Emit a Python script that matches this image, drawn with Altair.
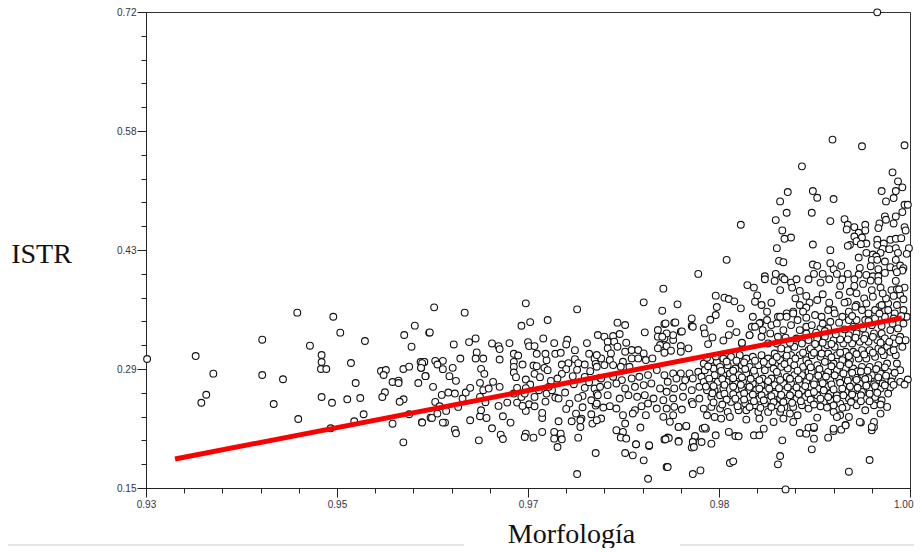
import altair as alt
import pandas as pd

left_points = [(.9301,.3045),(.93455,.308),(.93617,.2869),(.93552,.2617),(.93507,.2521),(.94065,.3276),(.94065,.2853),(.94255,.2802),(.9417,.2506),(.94386,.36),(.94395,.2326),(.94716,.3551),(.9478,.336),(.94502,.3204),(.94609,.3093),(.94609,.3009),(.94603,.2925),(.94652,.2925),(.94878,.2997),(.95006,.326),(.94609,.259),(.94704,.2521),(.94692,.2215),(.94844,.2562),(.94921,.2757),(.94963,.2578),(.94994,.2383),(.94908,.2299),(.95153,.2901),(.95198,.2913),(.95177,.2853),(.95259,.2769),(.95314,.2785),(.95314,.2757),(.95189,.2646),(.95165,.259),(.9536,.2562),(.95324,.2533),(.95358,.2047),(.95259,.227),(.95411,.2383),(.95528,.2287),(.95607,.2342),(.95358,.2925),(.95411,.2953),(.95366,.3332),(.95463,.3444),(.95433,.3192),(.95595,.336),(.95516,.3009),(.95549,.3009),(.95522,.2937),(.95562,.2841),(.95495,.2757)]

mid_left_points = [(.9553,.2283),(.9562,.2339),(.9567,.2391),(.9571,.2615),(.9577,.2643),(.9583,.2631),(.9565,.2531),(.9563,.2711),(.9575,.2423),(.9569,.2479),(.9586,.2471),(.9590,.2571),(.9593,.2643),(.9597,.2699),(.9574,.2283),(.9572,.2283),(.9583,.2199),(.9584,.2155),(.9597,.2311),(.9606,.2359),(.9612,.2339),(.9607,.2431),(.9606,.2591),(.9606,.2759),(.9609,.2671),(.9614,.2691),(.9618,.2771),(.9624,.2711),(.9611,.2527),(.9623,.2483),(.9627,.2359),(.9634,.2283),(.9617,.2215),(.9625,.2139),(.9627,.2087),(.9631,.2523),(.9640,.2523),(.9637,.2631),(.9640,.2699),(.9648,.2151),(.9647,.2111),(.9655,.2103),(.9663,.2339),(.9564,.3663),(.9592,.36),(.9560,.3363),(.9582,.3219),(.9596,.3247),(.9602,.3291),(.9617,.3231),(.9623,.3199),(.9624,.3163),(.9633,.3235),(.9648,.3711),(.9644,.3443),(.9652,.3487),(.9668,.3511),(.9664,.3291),(.9650,.3247),(.9651,.3199),(.9656,.3199),(.9658,.3107),(.9674,.3235),(.9603,.3123),(.9602,.3051),(.9609,.3051),(.9624,.3039),(.9588,.3051),(.9555,.3011),(.9553,.2995),(.9552,.2939),(.9565,.3023),(.9572,.3023),(.9567,.2979),(.9572,.2923),(.9581,.2939),(.9556,.2839),(.9578,.2839),(.9584,.2783),(.9607,.2927),(.9610,.2867),(.9637,.3107),(.9641,.3087),(.9637,.3011),(.9645,.2979),(.9637,.2951),(.9637,.2883),(.9639,.2827),(.9648,.2799),(.9655,.2967),(.9658,.2959),(.9656,.2867),(.9661,.2827),(.9667,.3031),(.9665,.2939),(.9668,.2911),(.9671,.2783),(.9666,.3107),(.9675,.3107),(.9648,.2423),(.9651,.2503),(.9656,.2479),(.9656,.2591),(.9666,.2535),(.9667,.2631),(.9675,.2583),(.9678,.2571),(.9672,.2671),(.9678,.2299),(.9644,.2591),(.9647,.2631),(.9660,.2671),(.9669,.2711),(.9652,.2739),(.9663,.2399),(.9645,.2483),(.9648,.2695)]

mid_points = [(.9695,.3639),(.9756,.3723),(.9773,.3623),(.9774,.3887),(.9686,.3275),(.9685,.3219),(.9704,.3235),(.9693,.3151),(.9680,.3119),(.9687,.2995),(.9681,.2979),(.9685,.2923),(.9681,.2867),(.9677,.2811),(.9691,.2839),(.9695,.2915),(.9702,.2979),(.9693,.3043),(.9696,.2995),(.9706,.3107),(.9711,.3051),(.9712,.2987),(.9707,.2899),(.9716,.2819),(.9711,.2691),(.9702,.2699),(.9692,.2743),(.9684,.2643),(.9700,.2603),(.9713,.2631),(.9712,.2487),(.9700,.2467),(.9688,.2511),(.9685,.2447),(.9694,.2391),(.9699,.2331),(.9690,.2299),(.9698,.2231),(.9698,.2311),(.9709,.2271),(.9708,.2383),(.9695,.1667),(.9760,.1611),(.9777,.1751),(.9756,.1831),(.9739,.1919),(.9746,.1891),(.9712,.1919),(.9749,.2023),(.9761,.2003),(.9677,.1991),(.9605,.2071),(.9696,.2103),(.9674,.2171),(.9674,.2091),(.9680,.2151),(.9681,.2083),(.9663,.2171),(.9702,.2831),(.9706,.2767),(.9708,.2551),(.9696,.2579)]

mid_dense = [(.9732,.3480),(.9739,.3452),(.9757,.3364),(.9714,.3332),(.9720,.3312),(.9728,.3320),(.9734,.3344),(.9723,.3252),(.9729,.3252),(.9740,.3240),(.9723,.3172),(.9732,.3192),(.9739,.3132),(.9745,.3152),(.9751,.3152),(.9756,.3112),(.9726,.3112),(.9717,.3052),(.9725,.3032),(.9737,.3012),(.9745,.3052),(.9751,.3052),(.9758,.3032),(.9764,.3052),(.9713,.3092),(.9713,.2952),(.9720,.2972),(.9728,.2972),(.9743,.2952),(.9735,.2952),(.9769,.3392),(.9775,.3464),(.9784,.3480),(.9790,.3372),(.9769,.3312),(.9775,.3292),(.9783,.3272),(.9771,.3212),(.9777,.3200),(.9769,.3172),(.9790,.3200),(.9790,.3132),(.9797,.3172),(.9781,.3144),(.9800,.3440),(.9775,.3120),(.9717,.2812),(.9728,.2832),(.9736,.2792),(.9745,.2812),(.9752,.2832),(.9760,.2852),(.9768,.2912),(.9775,.2852),(.9783,.2872),(.9790,.2872),(.9798,.2872),(.9806,.2892),(.9778,.2772),(.9786,.2812),(.9794,.2792),(.9801,.2812),(.9809,.2832),(.9716,.2712),(.9723,.2732),(.9731,.2752),(.9739,.2692),(.9748,.2712),(.9756,.2732),(.9763,.2752),(.9771,.2692),(.9777,.2652),(.9784,.2692),(.9792,.2712),(.9800,.2672),(.9807,.2712),(.9714,.2612),(.9723,.2612),(.9734,.2572),(.9742,.2612),(.9750,.2592),(.9757,.2612),(.9765,.2572),(.9774,.2552),(.9783,.2572),(.9792,.2592),(.9800,.2532),(.9807,.2572),(.9713,.2512),(.9719,.2464),(.9725,.2480),(.9731,.2452),(.9748,.2432),(.9754,.2480),(.9760,.2512),(.9768,.2452),(.9777,.2452),(.9784,.2472),(.9791,.2440),(.9801,.2504),(.9737,.2372),(.9746,.2392),(.9758,.2372),(.9774,.2352),(.9780,.2292),(.9783,.2372),(.9717,.2332),(.9713,.2312),(.9739,.2272),(.9753,.2224),(.9731,.2192),(.9737,.2172),(.9788,.2232),(.9795,.2240),(.9735,.2104),(.9740,.2092),(.9778,.2104),(.9775,.2080),(.9788,.2064),(.9803,.2112),(.9801,.2052),(.9749,.2024),(.9761,.2012),(.9800,.1984),(.9810,.2212)]

right_sparse_low = [(.9778,.1751),(.9801,.1667),(.9808,.1711),(.9835,.1799),(.9838,.1819),(.9881,.1883),(.9879,.1783),(.9944,.1695),(.9963,.1835),(.9886,.1483),(.9910,.1963),(.9883,.2071),(.9803,.2123),(.9801,.2051),(.9802,.1991),(.9788,.2055),(.9809,.2051),(.9818,.2031),(.9779,.2099),(.9776,.2083),(.9822,.2131),(.9834,.2171),(.9840,.2123),(.9843,.2119),(.9857,.2131),(.9862,.2131),(.9788,.2231),(.9795,.2243),(.9813,.2211),(.9899,.2159),(.9905,.2151),(.9912,.2091),(.9925,.2103),(.9930,.2183),(.9937,.2199),(.9941,.2255),(.9955,.2283),(.9965,.2191),(.9967,.2231),(.9907,.2223),(.9912,.2219)]

right_upper = [(.9970,.7196),(.9929,.5672),(.9956,.5592),(.9995,.5604),(.9901,.5352),(.9984,.528),(.9989,.5172),(.9993,.51),(.9987,.5056),(.9974,.5056),(.9911,.5056),(.9915,.4976),(.9930,.496),(.9888,.5044),(.9881,.4932),(.9887,.4796),(.9910,.4796),(.9877,.4708),(.9927,.4696),(.9845,.4652),(.9978,.4932),(.9985,.4972),(.9995,.4892),(.9998,.4892),(.9993,.4804),(.9987,.4752),(.9977,.4752),(.9978,.4712),(.9985,.4668),(.9972,.4668),(.9971,.4612),(.9940,.4720),(.9943,.4652),(.9942,.4596),(.9949,.4624),(.9959,.4652),(.9959,.4584),(.9953,.4556),(.9949,.4512),(.9956,.45),(.9995,.4624),(.9996,.4584),(.9883,.4584),(.9891,.45),(.9885,.4484),(.9951,.4456),(.9945,.4412),(.9943,.44),(.9960,.4428),(.9955,.442),(.9970,.4472),(.9970,.4412),(.9976,.4428),(.9982,.4472),(.9987,.4484),(.9992,.4492),(.9911,.4416),(.9878,.4372),(.9927,.4348),(.9975,.4364),(.9981,.436),(.9987,.4372),(.9999,.4372),(.9997,.4304),(.9989,.4316),(.9960,.4316),(.9966,.4296),(.9973,.4316),(.9969,.4272),(.9953,.426),(.9965,.4232),(.9970,.4232),(.9977,.4212),(.9987,.4232),(.9832,.4232),(.9880,.422),(.9884,.4204),(.9911,.4176),(.9915,.416),(.9927,.4192),(.9937,.416),(.9930,.412),(.9933,.4064),(.9806,.4064),(.9954,.4136),(.9964,.4156),(.9971,.412),(.9982,.4144),(.9987,.412),(.9991,.4164),(.9994,.4132),(.9993,.4104),(.9953,.4056),(.9960,.4052),(.9966,.4036),(.9971,.4036),(.9977,.4076),(.9988,.4084),(.9867,.4036),(.9877,.4064),(.9883,.4024),(.9912,.4064),(.9920,.4064),(.9943,.4064),(.9867,.4),(.9876,.398),(.9885,.4),(.9891,.396),(.9896,.4),(.9907,.4),(.9918,.396),(.9926,.4),(.9938,.4),(.9949,.4),(.9957,.3944),(.9964,.3984),(.9971,.398),(.9987,.398),(.9851,.393),(.9857,.39),(.9892,.39),(.9881,.387),(.9899,.386),(.9936,.392),(.9949,.392),(.9965,.387),(.9973,.39),(.9983,.387),(.9988,.388),(.9995,.39)]

right_band = [(.9787,.3699),(.9822,.3803),(.9830,.3779),(.9834,.3763),(.9839,.3735),(.9845,.3651),(.9823,.3667),(.9822,.3571),(.9817,.3515),(.9800,.3531),(.9801,.3431),(.9785,.3483),(.9776,.3471),(.9811,.3415),(.9812,.3351),(.9819,.3303),(.9815,.3223),(.9835,.3471),(.9841,.3367),(.9834,.3331),(.9829,.3267),(.9791,.3375),(.9783,.3331),(.9777,.3351),(.9773,.3311),(.9846,.3231),(.9853,.3331),(.9856,.3551),(.9860,.3807),(.9858,.3731),(.9864,.3691),(.9873,.3719),(.9869,.3611),(.9863,.3479),(.9855,.3431),(.9879,.3551),(.9893,.3611),(.9895,.3771),(.9908,.3719),(.9899,.3691),(.9887,.3591),(.9926,.3719),(.9930,.3631),(.9943,.3731),(.9951,.3691),(.9951,.3831),(.9966,.3791),(.9972,.3671),(.9980,.3711),(.9988,.3691),(.9991,.3811),(.9905,.3661),(.9915,.3751),(.9935,.3811),(.9958,.3771)]

crop_a_upper = [(.9862,.3471),(.9869,.3511),(.9873,.3451),(.9865,.3391),(.9858,.3431),(.9881,.3551),(.9878,.3471),(.9887,.3551),(.9893,.3591),(.9884,.3391),(.9891,.3451),(.9897,.3511),(.9902,.3611),(.9905,.3431),(.9899,.3391),(.9864,.3311),(.9872,.3351),(.9879,.3311),(.9853,.3331),(.9846,.3239),(.9878,.3231),(.9870,.3231)]

crop_a_lower = [(.9811,.2991),(.9817,.3031),(.9823,.3011),(.9829,.3051),(.9836,.3071),(.9844,.3091),(.9850,.3051),(.9856,.3071),(.9864,.3091),(.9870,.3051),(.9876,.3111),(.9882,.3171),(.9888,.3151),(.9894,.3191),(.9901,.3231),(.9907,.3151),(.9885,.3051),(.9891,.3091),(.9899,.3091),(.9881,.3031),(.9905,.3031),(.9812,.2911),(.9820,.2931),(.9826,.2951),(.9833,.2971),(.9840,.2931),(.9846,.2971),(.9853,.2951),(.9861,.2971),(.9867,.2911),(.9875,.2931),(.9882,.2951),(.9888,.2931),(.9894,.2971),(.9902,.2951),(.9821,.2851),(.9829,.2851),(.9835,.2871),(.9843,.2851),(.9850,.2871),(.9858,.2851),(.9865,.2811),(.9873,.2811),(.9879,.2851),(.9887,.2831),(.9894,.2851),(.9901,.2851),(.9907,.2891),(.9811,.2771),(.9817,.2751),(.9824,.2771),(.9832,.2771),(.9840,.2751),(.9847,.2771),(.9856,.2751),(.9864,.2731),(.9876,.2731),(.9884,.2751),(.9891,.2751),(.9899,.2751),(.9905,.2771),(.9814,.2671),(.9821,.2671),(.9829,.2691),(.9846,.2691),(.9852,.2671),(.9859,.2671),(.9867,.2651),(.9876,.2631),(.9885,.2651),(.9893,.2651),(.9901,.2671),(.9818,.2591),(.9826,.2611),(.9844,.2611),(.9853,.2591),(.9862,.2571),(.9871,.2551),(.9881,.2571),(.9888,.2551),(.9896,.2571),(.9904,.2591),(.9836,.2531),(.9849,.2511),(.9858,.2491),(.9867,.2511),(.9878,.2491),(.9885,.2471),(.9893,.2471),(.9901,.2491),(.9811,.2451),(.9818,.2471),(.9826,.2451),(.9833,.2411),(.9843,.2431),(.9850,.2431),(.9861,.2411),(.9870,.2411),(.9881,.2411),(.9890,.2391),(.9897,.2371),(.9814,.2371),(.9821,.2351),(.9827,.2331),(.9835,.2351),(.9850,.2319),(.9862,.2331),(.9875,.2291),(.9884,.2331),(.9893,.2291),(.9812,.2223),(.9866,.2211)]

crop_b_upper = [(.9913,.3571),(.9919,.3551),(.9925,.3631),(.9931,.3591),(.9938,.3551),(.9944,.3611),(.9950,.3671),(.9956,.3631),(.9962,.3591),(.9968,.3631),(.9974,.3691),(.9980,.3631),(.9986,.3591),(.9994,.3631),(.9927,.3491),(.9944,.3511),(.9951,.3511),(.9959,.3511),(.9968,.3531),(.9977,.3551),(.9910,.3451),(.9918,.3411),(.9925,.3411),(.9994,.3551),(.9997,.3551)]

crop_b_lower = [(.9907,.3271),(.9915,.3291),(.9922,.3311),(.9930,.3271),(.9944,.3331),(.9951,.3351),(.9959,.3331),(.9967,.3351),(.9974,.3351),(.9982,.3391),(.9989,.3411),(.9909,.3171),(.9916,.3171),(.9924,.3211),(.9931,.3191),(.9939,.3231),(.9947,.3231),(.9954,.3251),(.9962,.3251),(.9970,.3271),(.9977,.3291),(.9985,.3291),(.9991,.3311),(.9910,.3091),(.9918,.3071),(.9925,.3111),(.9933,.3091),(.9941,.3131),(.9948,.3131),(.9956,.3151),(.9963,.3151),(.9971,.3171),(.9979,.3191),(.9986,.3231),(.9907,.2991),(.9915,.2971),(.9922,.3011),(.9930,.2991),(.9938,.3031),(.9945,.3031),(.9953,.3051),(.9960,.3051),(.9968,.3071),(.9976,.3091),(.9982,.3131),(.9987,.3091),(.9910,.2891),(.9918,.2871),(.9925,.2891),(.9933,.2911),(.9941,.2931),(.9948,.2931),(.9956,.2951),(.9963,.2951),(.9971,.2971),(.9979,.2991),(.9988,.2991),(.9991,.2911),(.9912,.2791),(.9919,.2791),(.9927,.2791),(.9935,.2811),(.9942,.2851),(.9950,.2831),(.9957,.2851),(.9965,.2851),(.9973,.2871),(.9980,.2891),(.9984,.2839),(.9909,.2711),(.9916,.2691),(.9924,.2711),(.9939,.2731),(.9947,.2751),(.9954,.2751),(.9962,.2771),(.9970,.2791),(.9977,.2791),(.9991,.2771),(.9998,.2799),(.9995,.2739),(.9915,.2611),(.9927,.2631),(.9933,.2611),(.9941,.2651),(.9948,.2671),(.9956,.2651),(.9963,.2691),(.9973,.2691),(.9982,.2703),(.9980,.2631),(.9921,.2531),(.9927,.2551),(.9936,.2511),(.9944,.2571),(.9951,.2591),(.9959,.2571),(.9968,.2591),(.9974,.2551),(.9907,.2451),(.9918,.2479),(.9924,.2463),(.9930,.2411),(.9942,.2471),(.9951,.2491),(.9959,.2431),(.9967,.2491),(.9979,.2471),(.9973,.2391),(.9936,.2371),(.9933,.2351),(.9944,.2351),(.9915,.2343),(.9954,.2291),(.9967,.2291),(.9965,.2231),(.9941,.2251),(.9930,.2211),(.9912,.2231)]

overlap_fill = [(.9815,.2958),(.9827,.2902),(.9838,.2905),(.9849,.2925),(.9857,.2905),(.9870,.2985),(.9878,.2890),(.9885,.2985),(.9897,.2905),(.9909,.2945),(.9917,.2925),(.9928,.2958),(.9936,.2968),(.9944,.2985),(.9952,.2898),(.9961,.2905),(.9969,.2925),(.9977,.2945),(.9816,.2810),(.9828,.2805),(.9838,.2815),(.9846,.2825),(.9854,.2808),(.9862,.2792),(.9870,.2780),(.9881,.2795),(.9890,.2808),(.9898,.2800),(.9908,.2830),(.9916,.2845),(.9923,.2835),(.9931,.2850),(.9939,.2872),(.9947,.2880),(.9955,.2895),(.9962,.2815),(.9971,.2825),(.9978,.2845),(.9986,.2880),(.9813,.2715),(.9820,.2720),(.9830,.2735),(.9838,.2715),(.9845,.2735),(.9853,.2712),(.9862,.2690),(.9871,.2690),(.9880,.2695),(.9888,.2705),(.9896,.2705),(.9904,.2720),(.9912,.2740),(.9920,.2755),(.9928,.2740),(.9936,.2760),(.9943,.2785),(.9951,.2795),(.9959,.2805),(.9967,.2740),(.9975,.2750),(.9983,.2775),(.9819,.2635),(.9830,.2630),(.9838,.2625),(.9848,.2635),(.9856,.2620),(.9864,.2610),(.9873,.2600),(.9882,.2615),(.9890,.2610),(.9898,.2625),(.9907,.2630),(.9912,.2650),(.9921,.2670),(.9930,.2680),(.9938,.2690),(.9945,.2715),(.9952,.2700),(.9960,.2725),(.9968,.2720),(.9977,.2730),(.9985,.2735),(.9832,.2560),(.9840,.2570),(.9848,.2560),(.9857,.2540),(.9866,.2550),(.9875,.2530),(.9884,.2530),(.9892,.2520),(.9900,.2540),(.9909,.2560),(.9918,.2570),(.9925,.2590),(.9933,.2570),(.9939,.2610),(.9947,.2620),(.9955,.2610),(.9963,.2630),(.9970,.2640),(.9820,.2525),(.9828,.2500),(.9842,.2480),(.9853,.2470),(.9863,.2460),(.9873,.2470),(.9882,.2450),(.9912,.2500),(.9930,.2490),(.9938,.2460),(.9946,.2530),(.9955,.2540),(.9963,.2540),(.9973,.2500),(.9814,.3060),(.9822,.3075),(.9832,.3015),(.9841,.3025),(.9848,.3005),(.9858,.3025),(.9866,.3010),(.9874,.3015),(.9878,.3070),(.9887,.3085),(.9895,.3050),(.9902,.3120),(.9912,.3120),(.9919,.3110),(.9928,.3065),(.9936,.3120),(.9944,.3080),(.9951,.3105),(.9958,.3100),(.9966,.3120),(.9974,.3140),(.9985,.3150),(.9993,.3190),(.9996,.3270),(.9913,.3225),(.9920,.3240),(.9928,.3225),(.9936,.3280),(.9943,.3280),(.9950,.3300),(.9958,.3285),(.9966,.3310),(.9973,.3240),(.9981,.3250),(.9990,.3270),(.9890,.3240),(.9896,.3290),(.9886,.3300),(.9905,.3350),(.9914,.3360),(.9922,.3380),(.9932,.3340),(.9940,.3400),(.9948,.3430),(.9957,.3410),(.9965,.3450),(.9974,.3440),(.9984,.3470),(.9994,.3470),(.9905,.3540),(.9920,.3470),(.9935,.3480),(.9947,.3560),(.9962,.3500),(.9972,.3590),(.9985,.3530),(.9992,.3560),(.9940,.3720),(.9960,.3710),(.9978,.3770),(.9985,.3800),(.9994,.3760),(.9920,.3820),(.9905,.3800),(.9945,.3850),(.9975,.3830),(.9990,.3880)]

fit_x = [0.93266, 0.99925]
fit_y = [0.1847, 0.3536]

x_tick_labels = ["0.93", "0.95", "0.97", "0.98", "1.00"]
y_tick_labels = ["0.15", "0.29", "0.43", "0.58", "0.72"]
x_ticks = [round(0.93 + 0.0035 * i, 4) for i in range(21)]
y_ticks = [round(0.15 + 0.0285 * i, 4) for i in range(21)]

points = (left_points + mid_left_points + mid_points + mid_dense + right_sparse_low + right_upper
          + right_band + crop_a_upper + crop_a_lower + crop_b_upper + crop_b_lower + overlap_fill)
df = pd.DataFrame(points, columns=["x", "y"])
fit = pd.DataFrame({"x": fit_x, "y": fit_y})

x_expr = "round((datum.value-0.93)/0.0035)%5==0 ? " + str(x_tick_labels) + "[round((datum.value-0.93)/0.0175)] : ''"
y_expr = "round((datum.value-0.15)/0.0285)%5==0 ? " + str(y_tick_labels) + "[round((datum.value-0.15)/0.1425)] : ''"

x_scale = alt.Scale(domain=[0.93, 1.0], nice=False, zero=False)
y_scale = alt.Scale(domain=[0.15, 0.72], nice=False, zero=False)

x_axis = alt.Axis(
    values=x_ticks, tickCount=21, labelExpr=x_expr, labelOverlap=False, labelFlush=False, grid=False, domainColor="#222", tickColor="#222",
    tickSize={"condition": {"test": "round((datum.value-0.93)/0.0035)%5==0", "value": 9}, "value": 5},
    labelAlign={"condition": {"test": "datum.value>0.999", "value": "right"}, "value": "center"},
    labelOffset={"condition": {"test": "datum.value>0.999", "value": 3}, "value": 0},
    labelFont="Liberation Sans", labelFontSize=10, labelColor="#334", labelPadding=2,
    title="Morfología", titleFont="Liberation Serif", titleFontSize=28, titleFontWeight="normal",
    titleColor="#111", titleX=425, titleY=54, titleAlign="center", titleBaseline="alphabetic",
)
y_axis = alt.Axis(
    values=y_ticks, tickCount=21, labelExpr=y_expr, labelOverlap=False, labelFlush=False, grid=False, domainColor="#222", tickColor="#222",
    tickSize={"condition": {"test": "round((datum.value-0.15)/0.0285)%5==0", "value": 9}, "value": 5},
    labelFont="Liberation Sans", labelFontSize=10, labelColor="#334", labelPadding=1,
    title="ISTR", titleFont="Liberation Serif", titleFontSize=28, titleFontWeight="normal", titleColor="#111",
    titleAngle=0, titleX=-105, titleY=242, titleAlign="center", titleBaseline="middle",
)

scatter = alt.Chart(df).mark_point(
    shape="circle", size=46, filled=False, fill="white", fillOpacity=1, stroke="#111", strokeWidth=1.1,
    opacity=1, clip=False,
).encode(
    x=alt.X("x:Q", scale=x_scale, axis=x_axis),
    y=alt.Y("y:Q", scale=y_scale, axis=y_axis),
)
line = alt.Chart(fit).mark_line(color="#fb0000", strokeWidth=5).encode(
    x=alt.X("x:Q", scale=x_scale), y=alt.Y("y:Q", scale=y_scale)
)
edge_left = alt.Chart(fit).mark_rule(color="#dddddd", strokeWidth=1).encode(
    x=alt.value(-138), x2=alt.value(318), y=alt.value(533)
)
edge_right = alt.Chart(fit).mark_rule(color="#dddddd", strokeWidth=1).encode(
    x=alt.value(534), x2=alt.value(768), y=alt.value(533)
)

chart = alt.layer(edge_left, edge_right, scatter, line).properties(
    width=764, height=476,
    padding={"left": 138, "top": 4, "right": 4, "bottom": 60},
    autosize=alt.AutoSizeParams(type="none"),
).configure_view(stroke="#333", strokeWidth=1)

chart.save("out.html", embed_options={"renderer": "svg", "actions": False})
